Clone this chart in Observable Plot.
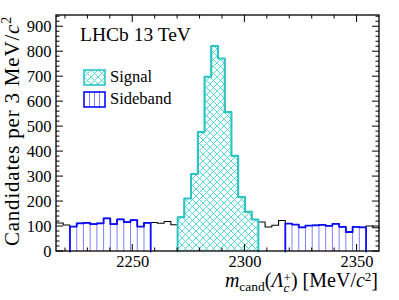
<!DOCTYPE html>
<html><head><meta charset="utf-8">
<script src="https://cdn.jsdelivr.net/npm/d3@7"></script>
<script src="https://cdn.jsdelivr.net/npm/@observablehq/plot@0.6"></script>
<style>body{margin:0;background:#fff}</style>
</head><body><div id="chart"></div>
<script>
// Histogram: 3 MeV bins from 2216 to 2360 MeV
const binStart = 2216;
const binWidth = 3;
const outerLow = [114, 106];
const sidebandLow = [100, 113, 115, 110, 113, 133, 110, 129, 118, 126, 100, 115];
const gapLow = [116, 113, 120, 107];
const signal = [137, 212, 310, 479, 700, 823, 773, 559, 383, 218, 159, 128];
const gapHigh = [118, 98, 105, 124];
const sidebandHigh = [112, 108, 97, 104, 105, 107, 103, 111, 99, 78, 99, 97];
const outerHigh = [102, 95];
const xTicks = [2250, 2300, 2350];
const yTicks = [0, 100, 200, 300, 400, 500, 600, 700, 800, 900];
const legendLabels = ["Signal", "Sideband"];

const allCounts = [...outerLow, ...sidebandLow, ...gapLow, ...signal, ...gapHigh, ...sidebandHigh, ...outerHigh];
const allBins = allCounts.map((v, i) => ({x1: binStart + i * binWidth, x2: binStart + (i + 1) * binWidth, y: v}));
const sliceBins = (startIdx, arr) => allBins.slice(startIdx, startIdx + arr.length);
const iSbLo = outerLow.length;
const iSig = iSbLo + sidebandLow.length + gapLow.length;
const iSbHi = iSig + signal.length + gapHigh.length;
const sbLoBins = sliceBins(iSbLo, sidebandLow);
const sigBins = sliceBins(iSig, signal);
const sbHiBins = sliceBins(iSbHi, sidebandHigh);

function outline(bins, closed) {
  const pts = [];
  if (closed) pts.push({x: bins[0].x1, y: 0});
  for (const b of bins) { pts.push({x: b.x1, y: b.y}, {x: b.x2, y: b.y}); }
  if (closed) pts.push({x: bins[bins.length - 1].x2, y: 0});
  return pts;
}
function edges(bins) {
  const e = [];
  for (let i = 1; i < bins.length; i++) e.push({x: bins[i].x1, y: Math.min(bins[i - 1].y, bins[i].y)});
  return e;
}

const cyan = "#2cc5c5";
const blue = "#0a0aff";
const font = "'Liberation Serif', 'Times New Roman', serif";

const plot = Plot.plot({
  width: 399, height: 300,
  marginLeft: 56, marginRight: 20, marginTop: 15, marginBottom: 49,
  style: {fontFamily: font, fontSize: "16px", background: "#fff", color: "#000"},
  x: {domain: [2216, 2360]},
  y: {domain: [0, 945]},
  marks: [
    Plot.line(outline(allBins, false), {x: "x", y: "y", stroke: "#000", strokeWidth: 1.1}),
    Plot.ruleX(edges(sbLoBins), {x: "x", y1: 0, y2: "y", stroke: "#8080ff", strokeWidth: 1}),
    Plot.ruleX(edges(sbHiBins), {x: "x", y1: 0, y2: "y", stroke: "#8080ff", strokeWidth: 1}),
    Plot.line(outline(sbLoBins, true), {x: "x", y: "y", stroke: blue, strokeWidth: 1.8}),
    Plot.line(outline(sbHiBins, true), {x: "x", y: "y", stroke: blue, strokeWidth: 1.8}),
    Plot.rectY(sigBins, {x1: "x1", x2: "x2", y: "y", fill: "url(#xhatch)", inset: 0}),
    Plot.line(outline(sigBins, true), {x: "x", y: "y", stroke: cyan, strokeWidth: 2}),
    Plot.axisX({ticks: xTicks, tickSize: 0, tickPadding: 4, fontSize: 16.5, tickFormat: d3.format("d"), label: null}),
    Plot.axisY({ticks: yTicks, tickSize: 0, tickPadding: 5, fontSize: 16.5, tickFormat: d3.format("d"), label: null})
  ]
});

const svg = d3.select(plot);
const defs = svg.insert("defs", ":first-child");
const pat = defs.append("pattern").attr("id", "xhatch").attr("patternUnits", "userSpaceOnUse")
  .attr("width", 7).attr("height", 7);
pat.append("path").attr("d", "M0,0L7,7M0,7L7,0M-1,1L1,-1M6,8L8,6M-1,6L1,8M6,-1L8,1")
  .attr("stroke", "#3fd2d2").attr("stroke-width", 0.9).attr("fill", "none");

const xs = plot.scale("x"), ys = plot.scale("y");
const L = 56, R = 379, T = 15, B = 251;
const g = svg.append("g").attr("stroke", "#000").attr("stroke-width", 1);
for (let v = 2220; v < 2360; v += 10) {
  const x = xs.apply(v), len = v % 50 === 0 ? 7 : 3.5;
  g.append("line").attr("x1", x).attr("x2", x).attr("y1", B).attr("y2", B - len);
  g.append("line").attr("x1", x).attr("x2", x).attr("y1", T).attr("y2", T + len);
}
for (let v = 0; v <= 940; v += 20) {
  const y = ys.apply(v), len = v % 100 === 0 ? 7 : 3.5;
  g.append("line").attr("x1", L).attr("x2", L + len).attr("y1", y).attr("y2", y);
  g.append("line").attr("x1", R).attr("x2", R - len).attr("y1", y).attr("y2", y);
}
svg.append("rect").attr("x", L).attr("y", T).attr("width", R - L).attr("height", B - T)
  .attr("fill", "none").attr("stroke", "#000").attr("stroke-width", 1.3);

const tg = svg.append("g").attr("font-family", font).attr("text-anchor", "start").attr("fill", "#000");
// Title text
tg.append("text").attr("x", 80).attr("y", 41).attr("font-size", 19.5).text("LHCb 13 TeV");

// Legend
const lg = tg.append("g").attr("font-size", 16.5);
lg.append("rect").attr("x", 84).attr("y", 70).attr("width", 21).attr("height", 15)
  .attr("fill", "url(#xhatch)").attr("stroke", cyan).attr("stroke-width", 1.6);
lg.append("text").attr("x", 110).attr("y", 82).text(legendLabels[0]);
for (const lx of [89.5, 94.5, 99.5]) lg.append("line").attr("x1", lx).attr("x2", lx).attr("y1", 92).attr("y2", 107).attr("stroke", "#8080ff");
lg.append("rect").attr("x", 84).attr("y", 92).attr("width", 21).attr("height", 15)
  .attr("fill", "none").attr("stroke", blue).attr("stroke-width", 1.6);
lg.append("text").attr("x", 110).attr("y", 104).text(legendLabels[1]);

// Axis titles
const xl = tg.append("text").attr("x", 378).attr("y", 287).attr("text-anchor", "end").attr("font-size", 20);
xl.append("tspan").attr("font-style", "italic").text("m");
xl.append("tspan").attr("font-size", 13.5).attr("dy", 4).text("cand");
xl.append("tspan").attr("dy", -4).text("(");
xl.append("tspan").attr("font-style", "italic").text("Λ");
xl.append("tspan").attr("font-style", "italic").attr("font-size", 13.5).attr("dy", 5).text("c");
xl.append("tspan").attr("font-size", 13).attr("dx", -6).attr("dy", -10).text("+");
xl.append("tspan").attr("dy", 5).text(") [MeV/");
xl.append("tspan").attr("font-style", "italic").text("c");
xl.append("tspan").attr("font-size", 13).attr("dy", -6.5).text("2");
xl.append("tspan").attr("dy", 6.5).text("]");

const yl = tg.append("text").attr("transform", "translate(19,16) rotate(-90)").attr("text-anchor", "end")
  .attr("font-size", 21).attr("letter-spacing", 0.8);
yl.append("tspan").text("Candidates per 3 MeV/");
yl.append("tspan").attr("font-style", "italic").text("c");
yl.append("tspan").attr("font-size", 14).attr("dy", -8).text("2");

document.getElementById("chart").appendChild(plot);
</script>
</body></html>
